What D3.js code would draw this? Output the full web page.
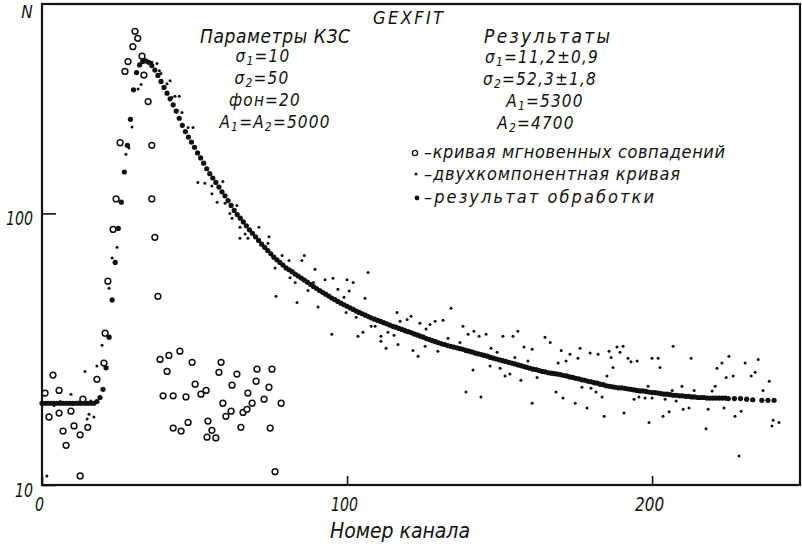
<!DOCTYPE html>
<html>
<head>
<meta charset="utf-8">
<script src="https://cdn.jsdelivr.net/npm/d3@7"></script>
<style>
  body { margin: 0; background: #fff; }
  text { font-family: "Liberation Sans Narrow", "DejaVu Sans Condensed", sans-serif; font-style: italic; fill: #111; }
</style>
</head>
<body>
<div id="chart"></div>
<script>
// --- data (channel number, counts N) ---

// fitted result ("результат обработки"), one point per channel, then a sparser tail
const resultChannels = d3.range(0, 226).concat([227, 229, 231, 233, 236, 238, 240]);
const resultCounts = [
  20, 20, 20, 20, 20, 20, 20, 20, 20, 20,
  20, 20, 20, 20, 20, 20, 20, 20, 20.3, 21,
  22.5, 27, 35, 48, 66, 88, 110, 142, 178, 222,
  285, 330, 352, 362, 364, 360, 350, 337, 322, 306,
  291, 277, 264, 251, 238, 224, 211, 200, 191, 183,
  175, 167, 160, 153, 146, 140, 135, 130, 125, 120,
  116, 111.5, 107, 102.5, 99, 96, 93, 90, 87, 84.5,
  82, 79.5, 77, 75, 73, 71, 69, 67.5, 66, 64.5,
  63, 62, 61, 59.8, 58.8, 57.8, 56.8, 55.8, 54.8, 53.8,
  52.9, 52, 51.2, 50.4, 49.6, 48.8, 48.1, 47.4, 46.7, 46.1,
  45.5, 44.9, 44.3, 43.7, 43.2, 42.7, 42.2, 41.7, 41.2, 40.8,
  40.4, 40, 39.6, 39.2, 38.8, 38.4, 38.1, 37.7, 37.4, 37,
  36.7, 36.4, 36, 35.7, 35.3, 35, 34.6, 34.3, 34, 33.7,
  33.4, 33.1, 32.9, 32.6, 32.4, 32.2, 32, 31.8, 31.6, 31.3,
  31.1, 30.9, 30.6, 30.4, 30.2, 30, 29.8, 29.5, 29.3, 29.1,
  28.9, 28.7, 28.5, 28.3, 28.1, 27.9, 27.7, 27.5, 27.3, 27.1,
  26.9, 26.7, 26.6, 26.4, 26.2, 26.1, 25.9, 25.8, 25.7, 25.6,
  25.5, 25.3, 25.2, 25, 24.9, 24.7, 24.6, 24.4, 24.3, 24.1,
  24, 23.8, 23.7, 23.5, 23.4, 23.2, 23.1, 23, 22.9, 22.8,
  22.8, 22.7, 22.6, 22.5, 22.4, 22.3, 22.2, 22.2, 22.1, 22,
  21.9, 21.9, 21.8, 21.7, 21.6, 21.6, 21.5, 21.4, 21.4, 21.3,
  21.3, 21.2, 21.2, 21.1, 21.1, 21, 21, 21, 20.9, 20.9,
  20.9, 20.9, 20.9, 20.9, 20.9, 20.8,
  20.8, 20.8, 20.7, 20.6, 20.5, 20.5, 20.5
];

// two-component curve ("двухкомпонентная кривая"), noisy points
const twoCompChannels = [
  2, 4, 6, 8, 10, 12, 14, 16, 1.6, 9.5, 14.1, 14.8, 15.4, 17, 18, 19.7,
  22, 23, 24.6, 27.5, 28.5, 29.5, 31.5, 32.5, 36, 37.7, 38.5, 39, 41, 42,
  42.6, 43.6, 45, 44.3, 45.9, 47.9, 49.5, 51.1, 53.4, 55.7, 59.3, 55.7, 57.4, 60,
  61.6, 63.9, 62.3, 64.9, 66.6, 64.9, 67.5, 71.1, 74.4, 74.1, 76.4, 76.7, 78.7, 81,
  85.2, 86, 81.3, 83, 83.6, 87.2, 89.5, 89, 92.8, 95.4, 97, 100, 102, 100.7,
  99, 90.5, 99.7, 103, 105.9, 106.9, 95, 103.6, 105.2, 107.9, 109.2, 111.1, 111.1, 112.8,
  113.4, 115.4, 116.4, 117.4, 119.7, 121, 116.7, 121.6, 123.3, 123.9, 125.9, 127.2, 128.9, 131.5,
  129.8, 134.1, 125.6, 133.1, 137, 138, 139.7, 141.6, 143.3, 145.6, 139, 141.3, 143.9, 147.2,
  146.9, 149.2, 151.1, 154.4, 156, 150.2, 151.8, 153.4, 155, 158, 157, 159.3, 160.7, 160.7,
  162.3, 164.9, 166.6, 168.5, 169.2, 170.2, 170.8, 171.8, 173.1, 174.8, 175.7, 176.4, 177, 178.7,
  179.7, 180, 181.6, 182.3, 183.6, 184.3, 185.2, 185.9, 186.6, 187.2, 188.5, 189.5, 190.5, 190.8,
  192.1, 193.1, 195.1, 194.1, 195.7, 197.7, 198.7, 200, 199, 200, 202, 202.6, 204.3, 203.6,
  205.6, 206.6, 206.9, 207.9, 209.8, 210.2, 212.1, 212.8, 213.8, 217.7, 218.4, 219.7, 220.7, 221.3,
  222.9, 223.6, 224.3, 225.2, 226.6, 227.2, 228.5, 229.2, 230.5, 232.5, 233.8, 234.8, 236.4, 238.4,
  239.7, 239.3, 241.6
];
const twoCompCounts = [
  20, 19.6, 20.3, 20, 19.8, 20.2, 20, 20.4, 10.8, 21.6, 26.2, 17.5, 18.2, 17.8, 27.4, 32.7,
  53, 68.5, 75, 165, 174, 208, 287, 298, 360, 356, 335, 327, 300, 308,
  267, 270, 270, 239, 235, 207, 207, 130, 129, 126, 131, 118, 110, 109,
  100, 107, 96, 89, 84, 81, 81, 89, 82, 77.6, 63, 49.5, 70, 67,
  67, 70, 58, 55.7, 47, 52, 62.3, 55.7, 57, 57.7, 52.6, 57, 55.7, 51.8,
  49.1, 45.2, 43.2, 41.5, 48.7, 60.6, 35.9, 35.3, 36.5, 38.4, 38.4, 35.3, 33.8, 31.9,
  36.5, 35.6, 43.2, 40.1, 40.7, 41.8, 32.9, 31.3, 29.8, 39.4, 37.5, 39, 40.1, 40.4,
  31.1, 44.7, 32.4, 34.7, 33.5, 38.4, 35.9, 36.8, 35.3, 35.9, 22, 26.5, 21.1, 31.9,
  27.4, 30.8, 35.3, 35.3, 36.8, 26.9, 25.2, 25.6, 29.5, 32.2, 24.3, 28.6, 31.6, 20,
  24.9, 35, 33.5, 22, 28.1, 31.3, 20.9, 28.6, 30.3, 20, 29.3, 31.9, 22.9, 19.2,
  30.6, 22.7, 22, 30.3, 21.1, 17.9, 25.2, 31.1, 29.5, 27.1, 32.2, 30.8, 32.4, 18.4,
  29.3, 28.4, 28.6, 20.7, 21.1, 20.9, 23.1, 20.9, 17, 29.3, 29.3, 27.1, 20.7, 17.9,
  18.6, 22.3, 32.4, 20.4, 23.1, 19, 19.2, 29.3, 22.3, 16.1, 19, 22.2, 23.1, 26.9,
  28.1, 19.2, 24.9, 29.8, 25.2, 17.9, 12.8, 18.7, 28.1, 25.2, 26, 29, 22.3, 24.1,
  17.3, 16.5, 17
];

// prompt coincidence curve ("кривая мгновенных совпадений"), open circles
const promptChannels = [
  1, 2.3, 3.6, 5.6, 5.6, 6.9, 7.9, 9.5, 10.5, 12.5, 12.5, 13.4, 15, 18,
  20.3, 20.7, 21.6, 23.3, 24.3, 25.6, 27.2, 28.2, 29.8, 30.5, 31.4, 32.8, 33.4, 34.8,
  36, 36, 37, 38,
  38.7, 41.6, 45.2, 49.2, 41, 39.7, 43, 47.2, 50.2, 52.1, 53.8, 43, 45.6, 47.9,
  54.4, 55.7, 54.1, 57, 58.7, 58, 63.9, 62.3, 59.3, 62, 60.3, 65.2, 65.9, 67.2,
  68.9, 67.5, 70.2, 70.5, 72.8, 74.4, 75.4, 74.8, 78.4, 76.4
];
const promptCounts = [
  21.8, 17.8, 25.4, 22.3, 18.4, 15.8, 14, 18.7, 16.5, 15.3, 10.8, 20.7, 16.3, 24.5,
  28.1, 36.2, 56.3, 87.3, 113, 182, 333, 362, 411, 468, 441, 379, 323, 258,
  178, 113, 81.6, 49.5,
  29, 30, 31.1, 28.3, 26.2, 21.3, 21.3, 21.1, 23.5, 21.6, 22.3, 16.2, 15.8, 17,
  17.2, 15.9, 15, 14.9, 28.3, 26, 25.6, 23.3, 20, 18.7, 17.9, 16.3, 18.5, 19,
  20, 21.8, 24.1, 26.7, 20.7, 22.9, 26.7, 16.2, 20, 11.2
];

const xTicks = [0, 100, 200];
const yTicks = [10, 100];

const leftBlock = [
  ["σ", "1", "=10"],
  ["σ", "2", "=50"],
  ["фон=20"],
  ["A", "1", "=A", "2", "=5000"]
];
const rightBlock = [
  ["σ", "1", "=11,2±0,9"],
  ["σ", "2", "=52,3±1,8"],
  ["A", "1", "=5300"],
  ["A", "2", "=4700"]
];
const legendLabels = [
  "–кривая мгновенных совпадений",
  "–двухкомпонентная кривая",
  "–результат обработки"
];

// --- drawing ---
const W = 802, H = 548;
const svg = d3.select("#chart").append("svg")
  .attr("width", W).attr("height", H);

const x = d3.scaleLinear().domain([0, 248.5]).range([42, 800]);
const y = d3.scaleLog().domain([10, 590]).range([485, 4]);

// axes with inward ticks; labels squeezed to the narrow drafting look
const xLabelW = {0: 9, 100: 27, 200: 29};
const xAxis = svg.append("g")
  .attr("transform", `translate(0,${y(10)})`)
  .call(d3.axisBottom(x).tickValues(xTicks).tickSize(-9).tickPadding(12).tickFormat(d3.format("d")));
xAxis.select(".domain").remove();
xAxis.selectAll("line").attr("stroke", "#111").attr("stroke-width", 1.6);
xAxis.selectAll("text").attr("font-size", 20).attr("font-family", null).attr("dx", -3)
  .attr("textLength", d => xLabelW[d]).attr("lengthAdjust", "spacingAndGlyphs");

const yLabelW = {10: 18, 100: 27};
const yAxis = svg.append("g")
  .attr("transform", `translate(${x(0)},0)`)
  .call(d3.axisLeft(y).tickValues(yTicks).tickSize(-14).tickPadding(9).tickFormat(d3.format("d")));
yAxis.select(".domain").remove();
yAxis.selectAll("line").attr("stroke", "#111").attr("stroke-width", 1.6);
yAxis.selectAll("text").attr("font-size", 20).attr("font-family", null).attr("dy", "0.55em")
  .attr("textLength", d => yLabelW[d]).attr("lengthAdjust", "spacingAndGlyphs");

// frame
svg.append("rect")
  .attr("x", x(0)).attr("y", y(590))
  .attr("width", x(248.5) - x(0)).attr("height", y(10) - y(590))
  .attr("fill", "none").attr("stroke", "#111").attr("stroke-width", 2.2);

// two-component points
svg.append("g").selectAll("circle")
  .data(twoCompChannels.map((c, i) => [c, twoCompCounts[i]]))
  .join("circle")
  .attr("cx", d => x(d[0])).attr("cy", d => y(d[1]))
  .attr("r", 1.5).attr("fill", "#111");

// result points
svg.append("g").selectAll("circle")
  .data(resultChannels.map((c, i) => [c, resultCounts[i]]))
  .join("circle")
  .attr("cx", d => x(d[0])).attr("cy", d => y(d[1]))
  .attr("r", 2.6).attr("fill", "#111");

// prompt curve, open circles
svg.append("g").selectAll("circle")
  .data(promptChannels.map((c, i) => [c, promptCounts[i]]))
  .join("circle")
  .attr("cx", d => x(d[0])).attr("cy", d => y(d[1]))
  .attr("r", 2.9).attr("fill", "#fff").attr("stroke", "#111").attr("stroke-width", 1.5);

// texts
svg.append("text").attr("x", 27).attr("y", 18).attr("text-anchor", "middle")
  .attr("font-size", 17).text("N");

svg.append("text").attr("x", 373).attr("y", 24).attr("font-size", 18)
  .attr("textLength", 70).attr("lengthAdjust", "spacing").text("GEXFIT");
svg.append("text").attr("x", 200).attr("y", 43).attr("font-size", 19)
  .attr("textLength", 150).attr("lengthAdjust", "spacing").text("Параметры КЗС");
svg.append("text").attr("x", 484).attr("y", 43).attr("font-size", 19)
  .attr("textLength", 126).attr("lengthAdjust", "spacing").text("Результаты");

function subText(parts, cx, base) {
  const t = svg.append("text").attr("x", cx).attr("y", base)
    .attr("text-anchor", "middle").attr("font-size", 17).attr("letter-spacing", 1.2);
  parts.forEach((p, i) => {
    const sub = i % 2 === 1;
    t.append("tspan")
      .attr("dy", sub ? 3 : (i > 0 ? -3 : 0))
      .attr("font-size", sub ? 12 : 17)
      .text(p);
  });
}
const leftX = [263, 262, 265, 275], leftY = [62, 84, 106, 128];
const rightX = [542, 540, 545, 536], rightY = [63, 85, 107, 129];
leftBlock.forEach((p, i) => subText(p, leftX[i], leftY[i]));
rightBlock.forEach((p, i) => subText(p, rightX[i], rightY[i]));

// legend
const legY = [158, 180, 203];
const legW = [301, 256, 230];
legendLabels.forEach((l, i) => {
  svg.append("text").attr("x", 424).attr("y", legY[i]).attr("font-size", 18)
    .attr("textLength", legW[i]).attr("lengthAdjust", "spacing").text(l);
});
svg.append("circle").attr("cx", 415).attr("cy", 153).attr("r", 2.6)
  .attr("fill", "#fff").attr("stroke", "#111").attr("stroke-width", 1.3);
svg.append("circle").attr("cx", 416).attr("cy", 174).attr("r", 1.5).attr("fill", "#111");
svg.append("circle").attr("cx", 417).attr("cy", 198).attr("r", 2.4).attr("fill", "#111");

// axis title
svg.append("text").attr("x", 330).attr("y", 538).attr("font-size", 21)
  .attr("textLength", 140).attr("lengthAdjust", "spacing").text("Номер канала");
</script>
</body>
</html>
